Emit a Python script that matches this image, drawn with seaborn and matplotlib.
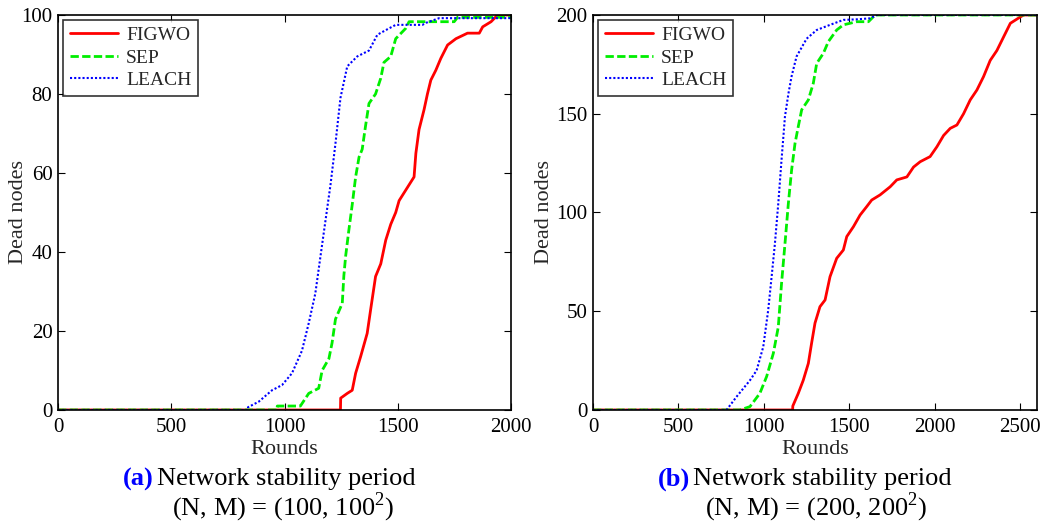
import matplotlib
matplotlib.use("Agg")
import matplotlib.pyplot as plt
import seaborn as sns
import pandas as pd

# ---------------- data: panel (a) N=100 ----------------
a_figwo_rounds = [0, 1247, 1248, 1277, 1299, 1314, 1336, 1365, 1380, 1402, 1425, 1447, 1469, 1491,
                  1506, 1528, 1572, 1580, 1594, 1616, 1631, 1646, 1668, 1690, 1720, 1757, 1808,
                  1860, 1875, 1912, 1941, 2000]
a_figwo_dead = [0, 0, 3, 4.2, 5, 9.3, 13.5, 19.4, 25.3, 33.8, 37, 43, 47, 50,
                53, 55, 59, 65, 71, 76, 80, 83.5, 86, 89, 92.4, 94, 95.4,
                95.4, 97, 98.3, 100, 100]
a_sep_rounds = [0, 967, 968, 1070, 1107, 1151, 1166, 1196, 1210, 1225, 1255, 1262, 1270, 1284,
                1299, 1314, 1329, 1343, 1358, 1373, 1402, 1425, 1439, 1469, 1491, 1535, 1550,
                1749, 1764, 2000]
a_sep_dead = [0, 0, 1, 1, 4.2, 5.5, 10, 13, 17, 23, 27, 34, 39, 45.5,
              52, 59, 64, 66, 72, 77.6, 80, 84, 88, 89.5, 94, 96.6, 98.3,
              98.3, 99.4, 99.4]
a_leach_rounds = [0, 838, 839, 886, 945, 989, 1033, 1077, 1107, 1136, 1159, 1181, 1203, 1225,
                  1247, 1277, 1321, 1373, 1410, 1461, 1491, 1609, 1624, 1683, 2000]
a_leach_dead = [0, 0, 0.7, 2.1, 5, 6.3, 9.3, 15, 22, 29.5, 39, 48, 57, 67.5,
                79, 87, 89.5, 91, 95, 96.6, 97.5, 97.5, 98, 99.2, 99.2]

# ---------------- data: panel (b) N=200 ----------------
b_figwo_rounds = [0, 1169, 1170, 1202, 1231, 1261, 1280, 1300, 1329, 1359, 1388, 1427, 1466, 1486,
                  1525, 1564, 1603, 1632, 1681, 1740, 1779, 1838, 1877, 1916, 1974, 2014, 2053,
                  2092, 2131, 2170, 2209, 2248, 2287, 2326, 2365, 2405, 2444, 2502, 2522, 2600]
b_figwo_dead = [0, 0, 2, 8.4, 15, 23.6, 33.8, 44, 52.3, 55.7, 67.5, 76.8, 81, 87.8,
                92.8, 98.7, 103, 106.3, 108.9, 113, 116.5, 118, 123, 125.7, 128.3, 133.3, 139,
                142.6, 144.3, 150, 157, 162, 168.8, 177, 182, 189, 195.8, 199, 200, 200]
b_sep_rounds = [0, 860, 919, 977, 1017, 1056, 1085, 1104, 1124, 1144, 1163, 1183, 1202, 1222,
                1261, 1290, 1310, 1349, 1378, 1427, 1466, 1544, 1613, 1652, 2600]
b_sep_dead = [0, 0, 1.7, 8.4, 17, 28.7, 42, 64, 84, 104.6, 121.5, 135, 143.5, 152,
              157, 165.4, 175.5, 180.6, 186.5, 192.4, 195, 196.6, 196.6, 200, 200]
b_leach_rounds = [0, 782, 841, 919, 958, 997, 1026, 1046, 1065, 1085, 1104, 1124, 1144, 1163,
                  1192, 1251, 1310, 1388, 1466, 1544, 1622, 1662, 2600]
b_leach_dead = [0, 0, 6.75, 15, 20, 32, 50.6, 67.5, 84, 104.6, 126.6, 148.5, 160, 169,
                179, 188, 192.4, 195, 197.5, 197.8, 198.3, 200, 200]

series_names = ["FIGWO", "SEP", "LEACH"]
x_ticks_a = [0, 500, 1000, 1500, 2000]
y_ticks_a = [0, 20, 40, 60, 80, 100]
x_ticks_b = [0, 500, 1000, 1500, 2000, 2500]
y_ticks_b = [0, 50, 100, 150, 200]
caption_letters = ["(a)", "(b)"]
caption_line1 = "Network stability period"
caption_line2 = ["(N, M) = (100, 100$^2$)", "(N, M) = (200, 200$^2$)"]

# ---------------- style ----------------
sns.set_style("ticks")
plt.rcParams["font.family"] = ["Liberation Serif", "DejaVu Serif"]
plt.rcParams["mathtext.fontset"] = "custom"
plt.rcParams["mathtext.rm"] = "Liberation Serif"
plt.rcParams["xtick.direction"] = "in"
plt.rcParams["ytick.direction"] = "in"

colors = {"FIGWO": "#ff0000", "SEP": "#00ee00", "LEACH": "#0000ff"}
styles = {"FIGWO": "-", "SEP": (0, (3, 1.2)), "LEACH": (0, (1, 1))}
widths = {"FIGWO": 2.0, "SEP": 2.0, "LEACH": 1.5}

fig = plt.figure(figsize=(10.42, 5.24), dpi=100)
ax_a = fig.add_axes([0.0557, 0.2176, 0.4347, 0.7538])
ax_b = fig.add_axes([0.5691, 0.2176, 0.4261, 0.7538])

panels = [
    (ax_a, {"FIGWO": (a_figwo_rounds, a_figwo_dead), "SEP": (a_sep_rounds, a_sep_dead),
            "LEACH": (a_leach_rounds, a_leach_dead)}, 2000, 100, x_ticks_a, y_ticks_a, -0.066),
    (ax_b, {"FIGWO": (b_figwo_rounds, b_figwo_dead), "SEP": (b_sep_rounds, b_sep_dead),
            "LEACH": (b_leach_rounds, b_leach_dead)}, 2600, 200, x_ticks_b, y_ticks_b, -0.088),
]

for ax, data, xmax, ymax, xt, yt, ylab_x in panels:
    for name in series_names:
        r, d = data[name]
        df = pd.DataFrame({"Rounds": r, "Dead": d})
        sns.lineplot(data=df, x="Rounds", y="Dead", ax=ax, color=colors[name],
                     linestyle=styles[name], linewidth=widths[name], label=name,
                     estimator=None, sort=False)
    ax.set_xlim(0, xmax)
    ax.set_ylim(0, ymax)
    ax.set_xticks(xt)
    ax.set_yticks(yt)
    ax.tick_params(top=True, right=True, labelsize=15, length=5, width=0.8,
                   colors="black")
    ax.tick_params(axis="x", pad=6)
    ax.tick_params(axis="y", pad=4)
    for s in ax.spines.values():
        s.set_color("black")
        s.set_linewidth(1.2)
    ax.set_xlabel("Rounds", fontsize=16, labelpad=2)
    ax.set_ylabel("Dead nodes", fontsize=16)
    ax.yaxis.set_label_coords(ylab_x, 0.5)
    leg = ax.legend(loc="upper left", fontsize=14, frameon=True, fancybox=False,
                    edgecolor="black", handlelength=2.5, borderpad=0.35,
                    labelspacing=0.25, handletextpad=0.4, borderaxespad=0.25)
    leg.get_frame().set_linewidth(1.2)

# captions
cap_anchor_x = [154 / 1042, 690 / 1042]
cap_center_x = [283 / 1042, 816 / 1042]
for i in range(2):
    fig.text(cap_anchor_x[i], 1 - 479 / 524, caption_letters[i], color="#0000ff",
             fontweight="bold", fontsize=19, ha="right", va="center")
    fig.text(cap_anchor_x[i] + 3 / 1042, 1 - 479 / 524, caption_line1, color="black",
             fontsize=19, ha="left", va="center")
    fig.text(cap_center_x[i], 1 - 507 / 524, caption_line2[i], color="black",
             fontsize=19, ha="center", va="center")

fig.savefig("out.png", dpi=100)
